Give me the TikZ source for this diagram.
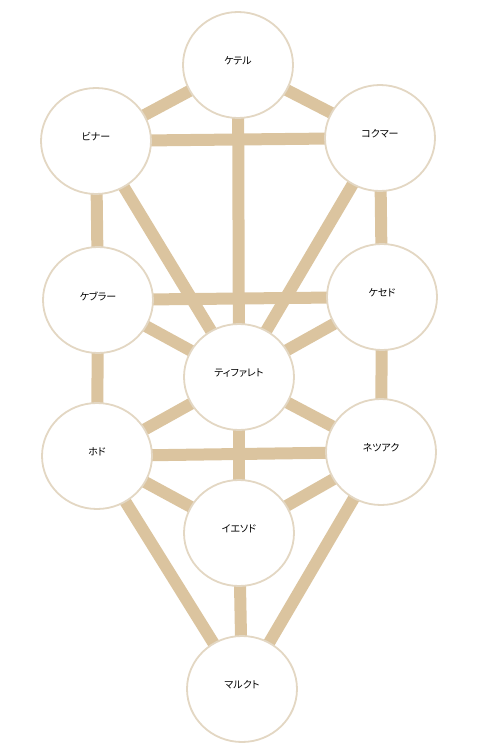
\documentclass[tikz,border=0pt]{standalone}
\usepackage{fontspec}
\newfontfamily\jpfont[RawFeature=+palt]{Noto Sans CJK JP}
\usetikzlibrary{shapes.geometric}
\definecolor{barcol}{HTML}{DBC49F}
\definecolor{ringcol}{HTML}{E3D7C3}
\pgfdeclarelayer{background}
\pgfsetlayers{background,main}
\tikzset{
  sephira/.style={ellipse, draw=ringcol, line width=1.8pt, fill=white,
    minimum width=110pt, minimum height=106pt, inner sep=0pt},
  sephlabel/.style={font=\jpfont\fontsize{10}{12}\selectfont, text=black, inner sep=0pt},
  path22/.style={draw=barcol, line width=12pt}
}
\begin{document}
\begin{tikzpicture}[x=1pt,y=-1pt]
\useasboundingbox (0,0) rectangle (503,754);
\node[sephira, label={[sephlabel,yshift=4pt]center:ケテル}] (keter) at (238,65) {};
\node[sephira, label={[sephlabel,yshift=4pt]center:ビナー}] (binah) at (96,141) {};
\node[sephira, label={[sephlabel,yshift=4pt]center:コクマー}] (chokmah) at (380,138) {};
\node[sephira, label={[sephlabel,yshift=4pt]center:ケブラー}] (geburah) at (98,300) {};
\node[sephira, label={[sephlabel,yshift=4pt]center:ケセド}] (chesed) at (382,297) {};
\node[sephira, label={[sephlabel,yshift=4pt]center:ティファレト}] (tiphareth) at (239,377) {};
\node[sephira, label={[sephlabel,yshift=4pt]center:ホド}] (hod) at (97,456) {};
\node[sephira, label={[sephlabel,yshift=4pt]center:ネツアク}] (netzach) at (381,452) {};
\node[sephira, label={[sephlabel,yshift=4pt]center:イエソド}] (yesod) at (239,533) {};
\node[sephira, label={[sephlabel,yshift=4pt]center:マルクト}] (malkuth) at (242,689) {};
\begin{pgfonlayer}{background}
\foreach \a/\b in {keter/binah, keter/chokmah, keter/tiphareth, binah/chokmah,
  binah/geburah, binah/tiphareth, chokmah/chesed, chokmah/tiphareth,
  geburah/chesed, geburah/tiphareth, chesed/tiphareth, geburah/hod,
  chesed/netzach, tiphareth/hod, tiphareth/netzach, tiphareth/yesod,
  hod/netzach, hod/yesod, netzach/yesod, hod/malkuth, netzach/malkuth,
  yesod/malkuth}
  \draw[path22] (\a.center) -- (\b.center);
\end{pgfonlayer}
\end{tikzpicture}
\end{document}
